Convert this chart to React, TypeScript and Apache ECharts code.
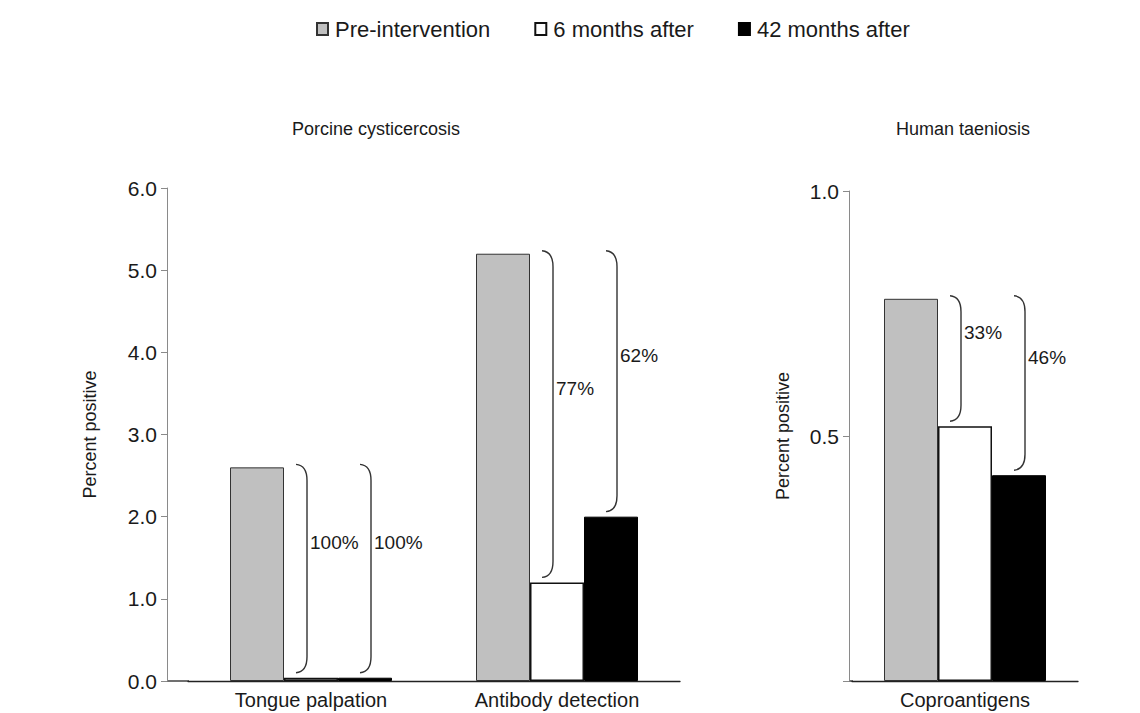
import React, { useEffect, useRef } from "react";
import * as echarts from "echarts";

const legendNames = ["Pre-intervention", "6 months after", "42 months after"];

const leftCategories = ["Tongue palpation", "Antibody detection"];
const leftPre = [2.6, 5.2];
const left6m = [0.04, 1.2];
const left42m = [0.04, 2.0];

const rightCategories = ["Coproantigens"];
const rightPre = [0.78];
const right6m = [0.52];
const right42m = [0.42];

const leftTicks = { min: 0, max: 6, interval: 1 };
const rightTicks = { min: 0, max: 1, interval: 0.5 };

// bracket: [category, from value, to value, bar index it sits over]
const leftBrackets = [
  ["Tongue palpation", 2.6, 0.04, 1],
  ["Tongue palpation", 2.6, 0.04, 2],
  ["Antibody detection", 5.2, 1.2, 1],
  ["Antibody detection", 5.2, 2.0, 2],
];
const leftBracketLabels = ["100%", "100%", "77%", "62%"];

const rightBrackets = [
  ["Coproantigens", 0.78, 0.52, 1],
  ["Coproantigens", 0.78, 0.42, 2],
];
const rightBracketLabels = ["33%", "46%"];

const FONT = "'Liberation Sans', Arial, sans-serif";
const BAR_W = 54;

function bracketRenderer(labels: string[]) {
  return (params: any, api: any) => {
    const cat = api.value(0);
    const top = api.coord([cat, api.value(1)]);
    const bot = api.coord([cat, api.value(2)]);
    const barIdx = api.value(3);
    const x0 = top[0] - 1.5 * BAR_W + BAR_W * barIdx + 2 + 10 * barIdx;
    const y0 = top[1] - 3;
    const y1 = bot[1] - 5;
    const w = 11;
    const c = 16;
    const d = `M${x0},${y0} Q${x0 + w},${y0 + 1} ${x0 + w},${y0 + c} L${x0 + w},${y1 - c} Q${x0 + w},${y1 - 1} ${x0},${y1}`;
    const mid = (y0 + y1) / 2;
    return {
      type: "group",
      children: [
        {
          type: "path",
          shape: { pathData: d },
          style: { stroke: "#333", fill: "none", lineWidth: 1.4 },
        },
        {
          type: "text",
          style: {
            text: labels[params.dataIndex],
            x: x0 + w + 3,
            y: mid - 26,
            fontSize: 19,
            fontFamily: FONT,
            fill: "#1a1a1a",
            align: "left",
            verticalAlign: "middle",
          },
        },
      ],
    };
  };
}

const styles = [
  { color: "#c0c0c0", borderColor: "#333", borderWidth: 1 },
  { color: "#ffffff", borderColor: "#111", borderWidth: 1.5 },
  { color: "#000000", borderColor: "#000", borderWidth: 1 },
];

export default function App() {
  const ref = useRef<HTMLDivElement>(null);
  useEffect(() => {
    document.body.style.margin = "0";
    if (!ref.current) return;
    const chart = echarts.init(ref.current, null, { renderer: "svg" });
    const yAxisCommon = {
      type: "value",
      splitLine: { show: false },
      axisLine: { show: true, lineStyle: { color: "#8a8a8a", width: 1 } },
      axisTick: { show: true, length: 6, lineStyle: { color: "#8a8a8a" } },
      axisLabel: { fontSize: 21, fontFamily: FONT, color: "#1a1a1a", margin: 10 },
      name: "Percent positive",
      nameLocation: "middle",
      nameRotate: 90,
      nameTextStyle: { fontSize: 18, fontFamily: FONT, color: "#1a1a1a" },
    };
    const xAxisCommon = {
      type: "category",
      axisLine: { show: true, lineStyle: { color: "#222", width: 1.3 } },
      axisTick: { show: false },
      axisLabel: { fontSize: 20, fontFamily: FONT, color: "#1a1a1a", margin: 9 },
    };
    const leftSeries = [leftPre, left6m, left42m].map((d, i) => ({
      type: "bar",
      name: legendNames[i],
      xAxisIndex: 0,
      yAxisIndex: 0,
      data: d,
      barWidth: BAR_W,
      barGap: "0%",
      itemStyle: styles[i],
    }));
    const rightSeries = [rightPre, right6m, right42m].map((d, i) => ({
      type: "bar",
      name: legendNames[i],
      xAxisIndex: 1,
      yAxisIndex: 1,
      data: d,
      barWidth: BAR_W,
      barGap: "0%",
      itemStyle: styles[i],
    }));
    chart.setOption({
      animation: false,
      backgroundColor: "#ffffff",
      legend: {
        data: legendNames,
        left: 311,
        top: 13,
        icon: "rect",
        itemWidth: 11,
        itemHeight: 12,
        itemGap: 44,
        textStyle: { fontSize: 22, fontFamily: FONT, color: "#1a1a1a", padding: [0, 0, 0, 2] },
      },
      title: [
        {
          text: "Porcine cysticercosis",
          left: 371,
          top: 115,
          textAlign: "center",
          textStyle: { fontSize: 18, fontWeight: "normal", fontFamily: FONT, color: "#1a1a1a" },
        },
        {
          text: "Human taeniosis",
          left: 958,
          top: 115,
          textAlign: "center",
          textStyle: { fontSize: 18, fontWeight: "normal", fontFamily: FONT, color: "#1a1a1a" },
        },
      ],
      grid: [
        { left: 188, top: 188, width: 492, height: 493 },
        { left: 852, top: 191, width: 226, height: 490 },
      ],
      xAxis: [
        { ...xAxisCommon, gridIndex: 0, data: leftCategories },
        { ...xAxisCommon, gridIndex: 1, data: rightCategories },
      ],
      yAxis: [
        {
          ...yAxisCommon,
          gridIndex: 0,
          ...leftTicks,
          offset: 21,
          nameGap: 68,
          axisLabel: { ...yAxisCommon.axisLabel, formatter: (v: number) => v.toFixed(1) },
        },
        {
          ...yAxisCommon,
          gridIndex: 1,
          ...rightTicks,
          offset: 3,
          nameGap: 57,
          axisLabel: {
            ...yAxisCommon.axisLabel,
            formatter: (v: number) => (v === 0 ? "" : v.toFixed(1)),
          },
        },
      ],
      graphic: [
        {
          type: "line",
          shape: { x1: 167, y1: 681, x2: 189, y2: 681 },
          style: { stroke: "#222", lineWidth: 1.3 },
        },
        {
          type: "line",
          shape: { x1: 849, y1: 681, x2: 853, y2: 681 },
          style: { stroke: "#222", lineWidth: 1.3 },
        },
      ],
      series: [
        ...leftSeries,
        ...rightSeries,
        {
          type: "custom",
          xAxisIndex: 0,
          yAxisIndex: 0,
          data: leftBrackets,
          renderItem: bracketRenderer(leftBracketLabels),
          z: 5,
        },
        {
          type: "custom",
          xAxisIndex: 1,
          yAxisIndex: 1,
          data: rightBrackets,
          renderItem: bracketRenderer(rightBracketLabels),
          z: 5,
        },
      ],
    });
    return () => chart.dispose();
  }, []);
  return <div ref={ref} style={{ width: 1140, height: 713 }} />;
}
